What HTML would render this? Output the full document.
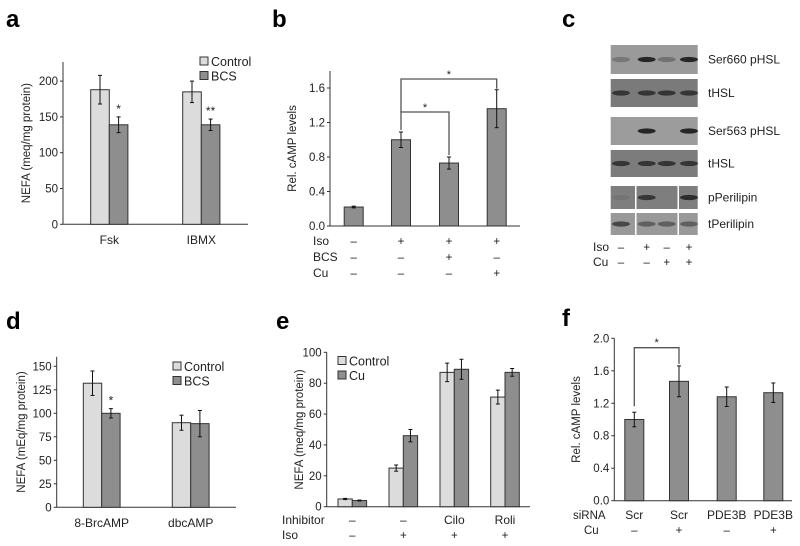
<!DOCTYPE html>
<html><head><meta charset="utf-8">
<style>
html,body{margin:0;padding:0;background:#fff;}
svg{display:block;font-family:"Liberation Sans",Arial,sans-serif;}
</style></head>
<body>
<svg id="fig" width="800" height="546" viewBox="0 0 800 546" xmlns="http://www.w3.org/2000/svg">
<g font-weight="bold" font-size="24" fill="#000">
<text x="6" y="27">a</text>
<text x="272" y="27">b</text>
<text x="562" y="27">c</text>
<text x="6" y="329">d</text>
<text x="276" y="329">e</text>
<text x="562" y="326">f</text>
</g>
<g id="blots"></g>
</svg>
<script>
// ---- panel a data
const aCats = ["Fsk","IBMX"];
const aControl = [188,185];
const aControlErr = [20,15];
const aBCS = [139,139];
const aBCSErr = [11,8];
const aStars = ["*","**"];
const aTicks = [0,50,100,150,200];
// ---- panel b data
const bValues = [0.22,1.0,0.73,1.36];
const bErr = [0.01,0.09,0.07,0.22];
const bTicks = [0.0,0.4,0.8,1.2,1.6];
const bIso = ["–","+","+","+"];
const bBCS = ["–","–","+","–"];
const bCu = ["–","–","–","+"];
// ---- panel d data
const dCats = ["8-BrcAMP","dbcAMP"];
const dControl = [132,90];
const dControlErr = [13,8];
const dBCS = [100,89];
const dBCSErr = [5,14];
const dStars = ["*",""];
const dTicks = [0,25,50,75,100,125,150];
// ---- panel e data
const eInhibitor = ["–","–","Cilo","Roli"];
const eIso = ["–","+","+","+"];
const eControl = [5,25,87,71];
const eControlErr = [0.4,2,6,4.5];
const eCu = [4,46,89,87];
const eCuErr = [0.3,4,6.5,2.5];
const eTicks = [0,20,40,60,80,100];
// ---- panel f data
const fSiRNA = ["Scr","Scr","PDE3B","PDE3B"];
const fCu = ["–","+","–","+"];
const fValues = [1.0,1.47,1.28,1.33];
const fErr = [0.09,0.19,0.12,0.12];
const fTicks = [0.0,0.4,0.8,1.2,1.6,2.0];

const NS="http://www.w3.org/2000/svg";
const svg=document.getElementById('fig');
function mk(tag,attrs,parent,txt){const e=document.createElementNS(NS,tag);for(const k in attrs)e.setAttribute(k,attrs[k]);if(txt!==undefined)e.textContent=txt;(parent||svg).appendChild(e);return e;}
const LIGHT="#dcdcdc",DARK="#8e8e8e",STK="#333";

function axes(g,x0,x1,y0,yTop,ticks,yScale,fmt,name,ylabel,ylx){
  const ax=mk('line',{x1:x0,y1:yTop,x2:x0,y2:y0,stroke:STK,'stroke-width':1},g);
  
  
  const bx=mk('line',{x1:x0,y1:y0,x2:x1,y2:y0,stroke:STK,'stroke-width':1},g);
  
  
  ticks.forEach(t=>{const y=yScale(t);
    mk('line',{x1:x0-3,y1:y,x2:x0,y2:y,stroke:STK},g);
    const tl=mk('text',{x:x0-5,y:y+4,'font-size':11.5,'text-anchor':'end',fill:'#222'},g,fmt(t));
    
    
  });
  const yl=mk('text',{x:0,y:0,'font-size':11.5,'text-anchor':'middle',fill:'#222',transform:`translate(${ylx},${(y0+yTop)/2}) rotate(-90)`},g,ylabel);
  
  
}
function bar(g,x,w,v,err,yScale,fill,name){
  const y=yScale(v),y0=yScale(0);
  const r=mk('rect',{x:x,y:y,width:w,height:y0-y,fill:fill,stroke:STK,'stroke-width':1},g);
  
  
  const cx=x+w/2,yh=yScale(v+err),yl=yScale(v-err);
  mk('line',{x1:cx,y1:yh,x2:cx,y2:yl,stroke:'#111','stroke-width':1},g);
  mk('line',{x1:cx-2,y1:yh,x2:cx+2,y2:yh,stroke:'#111'},g);
  mk('line',{x1:cx-2,y1:yl,x2:cx+2,y2:yl,stroke:'#111'},g);
}
function legend(g,x,y,items){
  items.forEach((it,i)=>{
    const r=mk('rect',{x:x,y:y+i*14.5-8,width:8,height:8,fill:it[1],stroke:STK},g);
    
    
    const t=mk('text',{x:x+11,y:y+i*14.5+1,'font-size':12.5,fill:'#222'},g,it[0]);
    
    
  });
}
function txt(g,x,y,s,name,anchor,size){
  const t=mk('text',{x:x,y:y,'font-size':size||11.5,'text-anchor':anchor||'middle',fill:'#222'},g,s);
  
  
  return t;
}

// ---------- Panel a
(function(){
  const g=mk('g',{});
  
  
  const y0=224.3,ys=v=>y0-v*0.716;
  axes(g,63,248,y0,62,aTicks,ys,t=>String(t),'panel-a','NEFA (meq/mg protein)',30);
  const starts=[90.7,182.7],w=18.6;
  aCats.forEach((c,i)=>{
    bar(g,starts[i],w,aControl[i],aControlErr[i],ys,LIGHT,'bar-control-'+c.toLowerCase());
    bar(g,starts[i]+w,w,aBCS[i],aBCSErr[i],ys,DARK,'bar-bcs-'+c.toLowerCase());
    txt(g,starts[i]+w+w/2,ys(aBCS[i]+aBCSErr[i])-4,aStars[i],'significance-star','middle',12);
    txt(g,starts[i]+w,244,c,'x-label-'+c.toLowerCase(),'middle',12);
  });
  legend(g,200,65,[["Control",LIGHT],["BCS",DARK]]);
})();

// ---------- Panel b
(function(){
  const g=mk('g',{});
  
  
  const y0=226,ys=v=>y0-v*86.25;
  axes(g,330,520,y0,71,bTicks,ys,t=>t.toFixed(1),'panel-b','Rel. cAMP levels',296);
  const cx=[353.7,401,449,496.7],w=19;
  bValues.forEach((v,i)=>{
    bar(g,cx[i]-w/2,w,v,bErr[i],ys,DARK,'bar-condition-'+(i+1));
    txt(g,cx[i],245,bIso[i],'iso-sign');
    txt(g,cx[i],261,bBCS[i],'bcs-sign');
    txt(g,cx[i],277,bCu[i],'cu-sign');
  });
  txt(g,313,245,'Iso','row-label-iso','start',12);
  txt(g,313,261,'BCS','row-label-bcs','start',12);
  txt(g,313,277,'Cu','row-label-cu','start',12);
  // brackets
  const top2=ys(bValues[1]+bErr[1])-2;
  const br1=mk('path',{d:`M${cx[1]},${top2} V112 H${cx[2]} V${ys(bValues[2]+bErr[2])-2}`,fill:'none',stroke:'#555','stroke-width':1.3},g);
  
  
  const br2=mk('path',{d:`M${cx[1]},112 V79 H${cx[3]} V${ys(bValues[3]+bErr[3])-1}`,fill:'none',stroke:'#555','stroke-width':1.3},g);
  
  
  txt(g,(cx[1]+cx[2])/2,111,'*','star','middle',11);
  txt(g,(cx[1]+cx[3])/2,78,'*','star','middle',11);
})();

// ---------- Panel c (blots)
(function(){
  const g=document.getElementById('blots');
  const rows=[[45,74,"Ser660 pHSL","#9a9a9a",[0.3,1,0.35,1]],[79,107,"tHSL","#7a7a7a",[0.8,0.8,0.8,0.8]],
    [117,145,"Ser563 pHSL","#9c9c9c",[0,1,0,1]],[150,177,"tHSL","#7c7c7c",[0.8,0.8,0.8,0.8]],
    [186,209,"pPerilipin","#7e7e7e",[0.1,0.8,0,0.9]],[213,235,"tPerilipin","#999",[0.7,0.5,0.5,0.5]]];
  const lanes=[621,646.7,666.7,689];
  rows.forEach((r,ri)=>{
    const rc=mk('rect',{x:610.7,y:r[0],width:87,height:r[1]-r[0],fill:r[3]},g);
    
    
    const cy=(r[0]+r[1])/2;
    lanes.forEach((lx,li)=>{const s=r[4][li];if(s>0){
      mk('ellipse',{cx:lx,cy:cy,rx:9,ry:2.6,fill:'#1a1a1a','fill-opacity':Math.min(1,s*0.9)},g);}});
    if(ri>=4){mk('rect',{x:635,y:r[0],width:1.5,height:r[1]-r[0],fill:'#fff'},g);
              mk('rect',{x:677.5,y:r[0],width:1.5,height:r[1]-r[0],fill:'#fff'},g);}
    const t=txt(g,708,cy+4,r[2],'blot-label','start',12);
  });
  const iso=["–","+","–","+"],cu=["–","–","+","+"];
  txt(g,593,251,'Iso','row-label-iso','start',12);
  txt(g,593,266,'Cu','row-label-cu','start',12);
  lanes.forEach((lx,i)=>{txt(g,lx,251,iso[i],'iso-sign');txt(g,lx,266,cu[i],'cu-sign');});
})();

// ---------- Panel d
(function(){
  const g=mk('g',{});
  
  
  const y0=507.3,ys=v=>y0-v*0.94;
  axes(g,56.7,236,y0,356.7,dTicks,ys,t=>String(t),'panel-d','NEFA (mEq/mg protein)',25);
  const starts=[83.3,172.3],w=18.4;
  dCats.forEach((c,i)=>{
    bar(g,starts[i],w,dControl[i],dControlErr[i],ys,LIGHT,'bar-control-'+c.toLowerCase());
    bar(g,starts[i]+w,w,dBCS[i],dBCSErr[i],ys,DARK,'bar-bcs-'+c.toLowerCase());
    if(dStars[i])txt(g,starts[i]+w*1.5,ys(dBCS[i]+dBCSErr[i])-4,dStars[i],'significance-star','middle',12);
    txt(g,starts[i]+w,527,c,'x-label-'+c.toLowerCase(),'middle',12);
  });
  legend(g,173,370,[["Control",LIGHT],["BCS",DARK]]);
})();

// ---------- Panel e
(function(){
  const g=mk('g',{});
  
  
  const y0=506.7,ys=v=>y0-v*1.544;
  axes(g,326.7,530,y0,352.3,eTicks,ys,t=>String(t),'panel-e','NEFA (meq/mg protein)',303);
  const starts=[338,389,440,490.7],w=14.3;
  eControl.forEach((v,i)=>{
    bar(g,starts[i],w,v,eControlErr[i],ys,LIGHT,'bar-control-group-'+(i+1));
    bar(g,starts[i]+w,w,eCu[i],eCuErr[i],ys,DARK,'bar-cu-group-'+(i+1));
    txt(g,starts[i]+w,524,eInhibitor[i],'inhibitor-value','middle',12);
    txt(g,starts[i]+w,539,eIso[i],'iso-sign');
  });
  txt(g,282,524,'Inhibitor','row-label-inhibitor','start',12);
  txt(g,282,539,'Iso','row-label-iso','start',12);
  legend(g,338,364.5,[["Control",LIGHT],["Cu",DARK]]);
})();

// ---------- Panel f
(function(){
  const g=mk('g',{});
  
  
  const y0=500.7,ys=v=>y0-v*81.2;
  axes(g,614.3,792,y0,338.3,fTicks,ys,t=>t.toFixed(1),'panel-f','Rel. cAMP levels',580);
  const cx=[634.3,679,726.7,773.3],w=19;
  fValues.forEach((v,i)=>{
    bar(g,cx[i]-w/2,w,v,fErr[i],ys,DARK,'bar-condition-'+(i+1));
    txt(g,cx[i],519,fSiRNA[i],'sirna-value','middle',12);
    txt(g,cx[i],534,fCu[i],'cu-sign');
  });
  txt(g,573,519,'siRNA','row-label-sirna','start',11.5);
  txt(g,584,534,'Cu','row-label-cu','start',11.5);
  const br=mk('path',{d:`M${cx[0]},${ys(fValues[0]+fErr[0])-6} V347.7 H${cx[1]} V${ys(fValues[1]+fErr[1])-2}`,fill:'none',stroke:'#555','stroke-width':1.3},g);
  
  
  txt(g,(cx[0]+cx[1])/2,346,'*','star','middle',11);
})();
</script>
</body></html>
